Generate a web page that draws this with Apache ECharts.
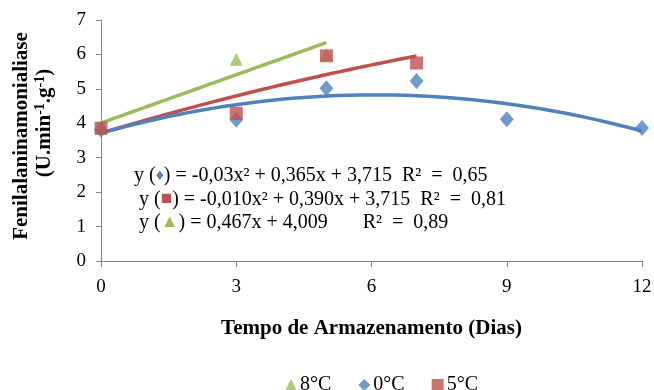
<!DOCTYPE html>
<html>
<head>
<meta charset="utf-8">
<script src="https://cdn.jsdelivr.net/npm/echarts@6/dist/echarts.min.js"></script>
<style>
html,body{margin:0;padding:0;background:#fff;}
#chart{width:654px;height:390px;}
</style>
</head>
<body>
<div id="chart"></div>
<script>
// Storage days and measured enzyme activity per temperature
const days0 = [0, 3, 5, 7, 9, 12];
const pal0 = [3.81, 4.10, 5.02, 5.23, 4.12, 3.86];
const days5 = [0, 3, 5, 7];
const pal5 = [3.86, 4.29, 5.96, 5.75];
const days8 = [0, 3, 5];
const pal8 = [3.85, 5.86, 6.00];

// Fitted regression coefficients [a, b, c] for y = a·x² + b·x + c
const fit0 = [-0.03, 0.365, 3.715];
const fit5 = [-0.010, 0.390, 3.715];
const fit8 = [0, 0.467, 4.009];
const fitRange0 = [0, 12];
const fitRange5 = [0, 7];
const fitRange8 = [0, 5];

const seriesNames = ['8°C', '0°C', '5°C'];
const xTicks = [0, 3, 6, 9, 12];

const C_BLUE = '#4F81BD', C_RED = '#C0504D', C_GREEN = '#9BBB59';
const SERIF = '"Liberation Serif", "Times New Roman", serif';

function pairs(xs, ys) { return xs.map((x, i) => [x, ys[i]]); }
function curve(coef, range) {
  const out = [];
  const n = 48;
  for (let i = 0; i <= n; i++) {
    const x = range[0] + (range[1] - range[0]) * i / n;
    out.push([x, coef[0] * x * x + coef[1] * x + coef[2]]);
  }
  return out;
}

const chart = echarts.init(document.getElementById('chart'), null, {renderer: 'canvas'});

const lineCommon = {type: 'line', showSymbol: false, symbol: 'none', silent: true, z: 2, smooth: false};

chart.setOption({
  animation: false,
  backgroundColor: '#fff',
  grid: {left: 101, right: 12, top: 20, bottom: 129, containLabel: false, outerBoundsMode: 'none'},
  xAxis: {
    type: 'value', min: 0, max: 12, interval: 3,
    name: 'Tempo de Armazenamento (Dias)', nameLocation: 'middle', nameGap: 57,
    nameTextStyle: {fontFamily: SERIF, fontWeight: 'bold', fontSize: 21, color: '#000'},
    axisLine: {lineStyle: {color: '#868686', width: 1}},
    axisTick: {show: true, length: 6, lineStyle: {color: '#868686'}},
    axisLabel: {fontFamily: SERIF, fontSize: 19, color: '#000', margin: 17,
      formatter: v => xTicks.includes(v) ? String(v) : ''},
    splitLine: {show: false}
  },
  yAxis: {
    type: 'value', min: 0, max: 7, interval: 1,
    axisLine: {show: true, lineStyle: {color: '#868686', width: 1}},
    axisTick: {show: true, length: 5, lineStyle: {color: '#868686'}},
    axisLabel: {fontFamily: SERIF, fontSize: 19, color: '#000', margin: 15},
    splitLine: {show: false}
  },
  legend: {
    bottom: -10, left: 280, itemGap: 27, itemWidth: 12, itemHeight: 12,
    textStyle: {fontFamily: SERIF, fontSize: 20, color: '#000', padding: [0, 0, 0, -2]},
    data: [
      {name: seriesNames[0], icon: 'triangle'},
      {name: seriesNames[1], icon: 'diamond'},
      {name: seriesNames[2], icon: 'rect'}
    ]
  },
  series: [
    Object.assign({}, lineCommon, {name: 'fit8', data: curve(fit8, fitRange8), lineStyle: {width: 3.5, color: C_GREEN}, itemStyle: {color: C_GREEN}}),
    Object.assign({}, lineCommon, {name: 'fit5', data: curve(fit5, fitRange5), lineStyle: {width: 3.5, color: C_RED}, itemStyle: {color: C_RED}}),
    Object.assign({}, lineCommon, {name: 'fit0', data: curve(fit0, fitRange0), lineStyle: {width: 3.5, color: C_BLUE}, itemStyle: {color: C_BLUE}}),
    {name: seriesNames[0], type: 'scatter', symbol: 'triangle', symbolSize: [13, 13], z: 3,
      itemStyle: {color: C_GREEN}, data: pairs(days8, pal8)},
    {name: seriesNames[1], type: 'scatter', symbol: 'diamond', symbolSize: [14, 16], z: 4,
      itemStyle: {color: C_BLUE}, data: pairs(days0, pal0)},
    {name: seriesNames[2], type: 'scatter', symbol: 'rect', symbolSize: [13, 13], z: 5,
      itemStyle: {color: C_RED}, data: pairs(days5, pal5)}
  ],
  graphic: [
    {
      // y-axis title, first line
      type: 'text', x: 22, y: 136, rotation: Math.PI / 2, z: 10,
      style: {
        text: 'Fenilalaninamonialiase',
        font: 'bold 21px ' + SERIF, fill: '#000', align: 'center', verticalAlign: 'middle'
      }
    },
    {
      // y-axis title, unit line with superscripts
      type: 'text', x: 45, y: 123, rotation: Math.PI / 2, z: 10,
      style: {
        text: '{n|(U.min}{s|-1}{n|.g}{s|-1}{n|)}',
        font: 'bold 21px ' + SERIF, fill: '#000', align: 'center', verticalAlign: 'middle',
        rich: {
          n: {fontFamily: SERIF, fontWeight: 'bold', fontSize: 21, fill: '#000', lineHeight: 24},
          s: {fontFamily: SERIF, fontWeight: 'bold', fontSize: 14, fill: '#000', verticalAlign: 'top', lineHeight: 24}
        }
      }
    },
    {
      // regression equations
      type: 'text', left: 134, top: 164, z: 10,
      style: {
        text: '{t|y (}{d|♦}{t|) = -0,03x² + 0,365x + 3,715  }{q|R²  =  0,65}\n' +
              '{t| y (}{r|■}{t|) = -0,010x² + 0,390x + 3,715  }{q|R²  =  0,81}\n' +
              '{t| y (}{g|▲}{t|) = 0,467x + 4,009       }{q|R²  =  0,89}',
        font: '20px ' + SERIF,
        fill: '#000',
        lineHeight: 23.5,
        rich: {
          t: {fontFamily: SERIF, fontSize: 20, fill: '#000', lineHeight: 23.5},
          q: {fontFamily: SERIF, fontSize: 20, fill: '#000', lineHeight: 23.5},
          d: {fontFamily: SERIF, fontSize: 16, fill: C_BLUE, lineHeight: 23.5},
          r: {fontFamily: SERIF, fontSize: 19, fill: C_RED, lineHeight: 23.5},
          g: {fontFamily: SERIF, fontSize: 18, fill: C_GREEN, lineHeight: 23.5}
        }
      }
    }
  ]
});
</script>
</body>
</html>
